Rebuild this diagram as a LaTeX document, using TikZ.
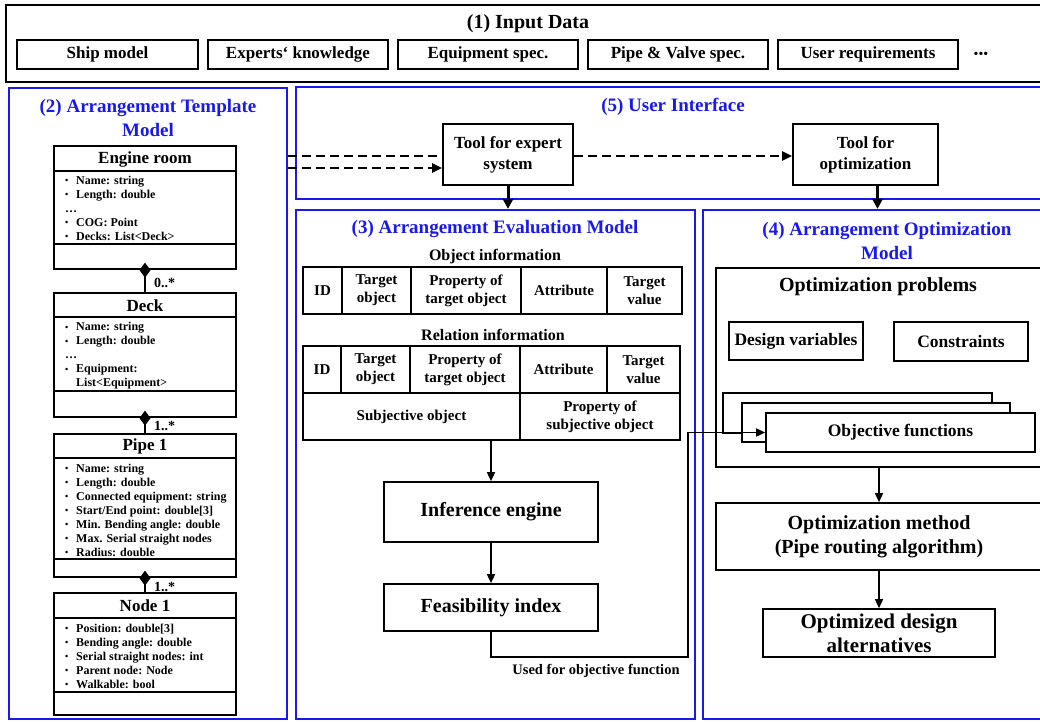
\documentclass[tikz,border=0pt]{standalone}
\usepackage{fontspec}
\setmainfont{Liberation Serif}
\usetikzlibrary{arrows.meta}
\definecolor{myblue}{RGB}{25,25,235}
\newcommand\fsz[2]{\fontsize{#1}{#2}\selectfont\bfseries}
\newcommand\bul{\makebox[11pt][l]{\fontsize{9}{9}\selectfont\raisebox{0.8pt}{•}}}
\begin{document}
\begin{tikzpicture}[x=1pt,y=-1pt,
 frame/.style={draw=myblue, line width=2.2pt},
 btitle/.style={text=myblue, font=\fsz{19}{24}, align=center},
 box/.style={draw, line width=1.7pt, fill=white, align=center, inner sep=0pt},
 inbox/.style={box, minimum width=180, minimum height=29, font=\fsz{17}{20}},
 uml/.style={draw, line width=1.3pt, inner sep=0pt, minimum width=182},
 sepline/.style={line width=1.3pt},
 umlhead/.style={font=\fsz{17}{20}},
 attrs/.style={anchor=west, align=left, font=\fsz{12}{14}, inner sep=0pt},
 mult/.style={anchor=west, font=\fsz{14}{16}, inner sep=0pt},
 cell/.style={draw, line width=1.3pt, align=center, inner sep=0pt, font=\fsz{15}{18}},
 thickarrow/.style={line width=3pt, -{Triangle[length=10pt,width=10pt]}},
 dashline/.style={line width=2.6pt, dash pattern=on 9pt off 5pt},
 dasharrow/.style={dashline, -{Triangle[length=10pt,width=9pt]}},
 conn/.style={line width=1.6pt, -{Triangle[length=9pt,width=8pt]}},
 diam/.style={line width=1.6pt, {Diamond[length=15pt,width=11pt]}-},
]
\fill[white] (0,0) rectangle (1040,721);
\useasboundingbox (0,0) rectangle (1040,721);

% (1) Input data
\node[draw, line width=2pt, minimum width=1036, minimum height=77] (f1) at (524,43.5) {};
\node[font=\fsz{20}{24}] (t1) at (528,24) {(1) Input Data};
\node[inbox, minimum width=181] (ship) at (107.5,54.5) {Ship model};
\node[inbox] (expk) at (298,54.5) {Experts‘ knowledge};
\node[inbox] (equip) at (488,54.5) {Equipment spec.};
\node[inbox] (pipev) at (678,54.5) {Pipe \& Valve spec.};
\node[inbox] (userr) at (868,54.5) {User requirements};
\node[font=\fontsize{14}{14}\selectfont, inner sep=0pt] (dots) at (981,55) {•••};

% (2) Arrangement template model
\node[frame, minimum width=278, minimum height=631] (f2) at (148,403.5) {};
\node[btitle] (t2) at (148,118) {(2) Arrangement Template\\Model};

% Engine room
\node[uml, minimum height=123] (eng) at (145,207.5) {};
\draw[sepline] (eng.west |- 0,171) -- (eng.east |- 0,171);
\draw[sepline] (eng.west |- 0,244) -- (eng.east |- 0,244);
\node[umlhead] (engh) at (145,159) {Engine room};
\node[attrs] (enga) at (65,208) {\bul Name: string\\ \bul Length: double\\ \ldots\\ \bul COG: Point\\ \bul Decks: List<Deck>};

% Deck
\node[uml, minimum height=124] (deck) at (145,355) {};
\draw[sepline] (deck.west |- 0,317) -- (deck.east |- 0,317);
\draw[sepline] (deck.west |- 0,391) -- (deck.east |- 0,391);
\node[umlhead] (deckh) at (145,305.5) {Deck};
\node[attrs] (decka) at (65,356) {\bul Name: string\\ \bul Length: double\\ \ldots\\ \bul Equipment:\\ \hspace*{11pt}List<Equipment>};

% Pipe 1
\node[uml, minimum height=143] (pipe) at (145,505.5) {};
\draw[sepline] (pipe.west |- 0,458) -- (pipe.east |- 0,458);
\draw[sepline] (pipe.west |- 0,559) -- (pipe.east |- 0,559);
\node[umlhead] (pipeh) at (145,446.5) {Pipe 1};
\node[attrs] (pipea) at (65,510) {\bul Name: string\\ \bul Length: double\\ \bul Connected equipment: string\\ \bul Start/End point: double[3]\\ \bul Min. Bending angle: double\\ \bul Max. Serial straight nodes\\ \bul Radius: double};

% Node 1
\node[uml, minimum height=122] (nodec) at (145,654) {};
\draw[sepline] (nodec.west |- 0,618) -- (nodec.east |- 0,618);
\draw[sepline] (nodec.west |- 0,692) -- (nodec.east |- 0,692);
\node[umlhead] (nodeh) at (145,606) {Node 1};
\node[attrs] (nodea) at (65,656) {\bul Position: double[3]\\ \bul Bending angle: double\\ \bul Serial straight nodes: int\\ \bul Parent node: Node\\ \bul Walkable: bool};

% compositions
\draw[diam] ([yshift=7pt]eng.south) -- (deck.north);
\draw[diam] ([yshift=7pt]deck.south) -- (pipe.north);
\draw[diam] ([yshift=7pt]pipe.south) -- (nodec.north);
\node[mult] (m1) at (154,283) {0..*};
\node[mult] (m2) at (154,426) {1..*};
\node[mult] (m3) at (154,587) {1..*};

% (5) User interface
\node[frame, minimum width=746, minimum height=112] (f5) at (669,143) {};
\node[btitle] (t5) at (673,107) {(5) User Interface};
\node[box, minimum width=130, minimum height=61, font=\fsz{17}{21}] (tes) at (508,154.5) {Tool for expert\\system};
\node[box, minimum width=145, minimum height=61, font=\fsz{17}{21}] (topt) at (865.5,154.5) {Tool for\\optimization};

% (3) and (4) frames
\node[frame, minimum width=399, minimum height=509] (f3) at (495.5,464.5) {};
\node[frame, minimum width=339, minimum height=509] (f4) at (872.5,464.5) {};

% dashed connectors
\coordinate (dA) at (f2.east |- 0,156);
\coordinate (dB) at (f2.east |- 0,168);
\draw[dashline] (dA) -- (dA -| tes.west);
\draw[dasharrow] (dA -| tes.east) -- (dA -| topt.west);
\draw[dasharrow] (dB) -- (dB -| tes.west);

% tool arrows
\draw[thickarrow] (tes.south) -- (tes.south |- f3.north);
\coordinate (ta) at ([xshift=12pt]topt.south);
\draw[thickarrow] (ta) -- (ta |- f4.north);

% (3) content
\node[btitle] (t3) at (495,229) {(3) Arrangement Evaluation Model};
\node[font=\fsz{16}{18}] (oinfo) at (495,257) {Object information};
\node[cell, minimum width=39, minimum height=47] (o1) at (322.5,290.5) {ID};
\node[cell, minimum width=69, minimum height=47] (o2) at (376.5,290.5) {Target\\object};
\node[cell, minimum width=110, minimum height=47] (o3) at (466,290.5) {Property of\\target object};
\node[cell, minimum width=86, minimum height=47] (o4) at (564,290.5) {Attribute};
\node[cell, minimum width=75, minimum height=47] (o5) at (644.5,290.5) {Target\\value};
\node[font=\fsz{16}{18}] (rinfo) at (493,335) {Relation information};
\node[cell, minimum width=38, minimum height=47] (r1) at (322,369.5) {ID};
\node[cell, minimum width=69, minimum height=47] (r2) at (375.5,369.5) {Target\\object};
\node[cell, minimum width=110, minimum height=47] (r3) at (465,369.5) {Property of\\target object};
\node[cell, minimum width=87, minimum height=47] (r4) at (563.5,369.5) {Attribute};
\node[cell, minimum width=73, minimum height=47] (r5) at (643.5,369.5) {Target\\value};
\node[cell, minimum width=217, minimum height=47] (r6) at (411.5,416.5) {Subjective object};
\node[cell, minimum width=160, minimum height=47] (r7) at (600,416.5) {Property of\\subjective object};

\node[box, minimum width=214, minimum height=60, font=\fsz{20}{24}] (inf) at (491,512) {Inference engine};
\node[box, minimum width=214, minimum height=47, font=\fsz{20}{24}] (feas) at (491,607.5) {Feasibility index};
\draw[conn] (inf.north |- r6.south) -- (inf.north);
\draw[conn] (inf.south) -- (feas.north);
\node[font=\fsz{14.5}{17}] (used) at (596,671) {Used for objective function};

% (4) content
\node[btitle] (t4) at (887,241) {(4) Arrangement Optimization\\Model};
\node[box, minimum width=326, minimum height=199] (opb) at (879,367.5) {};
\node[font=\fsz{20}{24}] (opbt) at (878,287) {Optimization problems};
\node[box, minimum width=134, minimum height=38, font=\fsz{17.5}{21}] (dv) at (796,341) {Design variables};
\node[box, minimum width=134, minimum height=39, font=\fsz{17.5}{21}] (cons) at (961,341.5) {Constraints};
\node[box, minimum width=269, minimum height=40] (ob3) at (857.5,413) {};
\node[box, minimum width=268, minimum height=39] (ob2) at (876,422.5) {};
\node[box, minimum width=269, minimum height=39, font=\fsz{17.5}{21}] (objf) at (900.5,432.5) {Objective functions};
\node[box, minimum width=326, minimum height=67, font=\fsz{20}{24}] (opm) at (879,536.5) {Optimization method\\(Pipe routing algorithm)};
\node[box, minimum width=232, minimum height=48, font=\fsz{21}{24}] (alt) at (879,633) {Optimized design\\alternatives};
\draw[conn] (opb.south) -- (opm.north);
\draw[conn] (opm.south) -- (alt.north);

% feedback connector
\coordinate (fbc) at (688,657);
\draw[conn] (feas.south) |- (fbc) |- (objf.west);
\end{tikzpicture}
\end{document}
